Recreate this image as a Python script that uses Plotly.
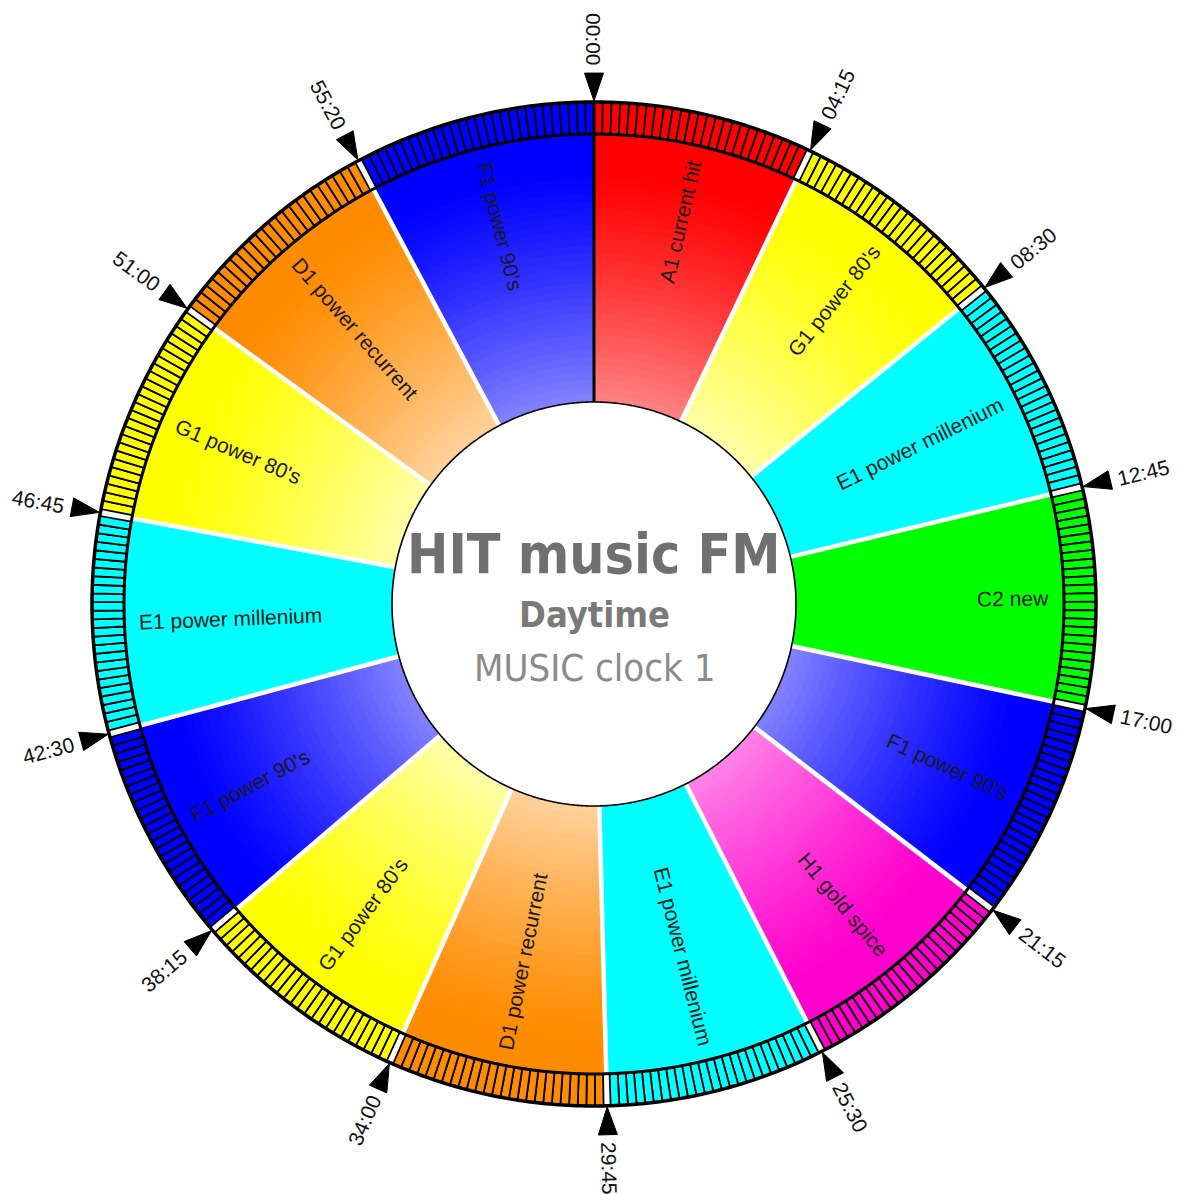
import numpy as np
import plotly.graph_objects as go

# ---------------- data ----------------
boundary_times = ["00:00", "04:15", "08:30", "12:45", "17:00", "21:15", "25:30",
                  "29:45", "34:00", "38:15", "42:30", "46:45", "51:00", "55:20"]
clock_end = "60:00"
segment_codes = ["A1", "G1", "E1", "C2", "F1", "H1", "E1",
                 "D1", "G1", "F1", "E1", "G1", "D1", "F1"]
segment_names = ["current hit", "power 80's", "power millenium", "new", "power 90's",
                 "gold spice", "power millenium", "power recurrent", "power 80's",
                 "power 90's", "power millenium", "power 80's", "power recurrent",
                 "power 90's"]
title_main = "HIT music FM"
title_sub = "Daytime"
title_clock = "MUSIC clock 1"

# ---------------- styles ----------------
code_colors = {"A1": (255, 0, 0), "C2": (0, 255, 0), "D1": (255, 140, 0),
               "E1": (0, 255, 255), "F1": (0, 0, 255), "G1": (255, 255, 0),
               "H1": (255, 0, 204)}
code_tint = {"A1": 0.5, "C2": 0.0, "D1": 0.6, "E1": 0.0, "F1": 0.5,
             "G1": 0.65, "H1": 0.5}

W, H = 1177, 1194
CX, CY = 594, 604          # centre in page px (from top-left)
R_HOLE, R_IN, R_OUT = 202, 470, 502
R_MAX = 545
RING_GAP_S = 8             # white gap in seconds around boundaries
CELL_S = 10


def to_sec(t):
    m, s = t.split(":")
    return int(m) * 60 + int(s)


def deg(sec):
    return sec / 10.0


starts = [to_sec(t) for t in boundary_times]
ends = starts[1:] + [to_sec(clock_end)]
labels = [f"{c} {n}" for c, n in zip(segment_codes, segment_names)]
total = to_sec(clock_end)

fig = go.Figure()

# ---- wedges with radial gradient (stacked bands, outer drawn last) ----
NB = 36
theta_c = [deg((a + b) / 2) for a, b in zip(starts, ends)]
widths = [deg(b - a) for a, b in zip(starts, ends)]
for k in range(NB):
    f = k / NB
    rb = R_HOLE + (R_IN - R_HOLE) * f
    cols = []
    for c in segment_codes:
        base = code_colors[c]
        t = code_tint[c] * max(0.0, 1 - f / 0.85) ** 1.2
        rgb = [round(v + (255 - v) * t) for v in base]
        cols.append(f"rgb({rgb[0]},{rgb[1]},{rgb[2]})")
    fig.add_trace(go.Barpolar(theta=theta_c, width=widths, base=[rb] * len(theta_c),
                              r=[R_IN - rb] * len(theta_c),
                              marker=dict(color=cols, line=dict(width=0)),
                              hoverinfo="skip", showlegend=False))

# ---- outer ring cells ----
cell_t, cell_w, cell_c = [], [], []
for a, b, c in zip(starts, ends, segment_codes):
    s0 = a + (RING_GAP_S / 2 if a % total != 0 else 0)
    s1 = b - (RING_GAP_S / 2 if b % total != 0 else 0)
    n = max(1, round((s1 - s0) / CELL_S))
    step = (s1 - s0) / n
    rgb = code_colors[c]
    for i in range(n):
        cell_t.append(deg(s0 + step * (i + 0.5)))
        cell_w.append(deg(step))
        cell_c.append(f"rgb({rgb[0]},{rgb[1]},{rgb[2]})")
fig.add_trace(go.Barpolar(theta=cell_t, width=cell_w, base=[R_IN] * len(cell_t),
                          r=[R_OUT - R_IN] * len(cell_t),
                          marker=dict(color=cell_c, line=dict(color="black", width=1.8)),
                          hoverinfo="skip", showlegend=False))

# ---- separators ----
sep_r, sep_t = [], []
for a in starts:
    if a % total == 0:
        continue
    sep_r += [R_HOLE, R_IN, None]
    sep_t += [deg(a), deg(a), None]
fig.add_trace(go.Scatterpolar(r=sep_r, theta=sep_t, mode="lines",
                              line=dict(color="white", width=4.5),
                              hoverinfo="skip", showlegend=False))
fig.add_trace(go.Scatterpolar(r=[R_HOLE, R_OUT], theta=[0, 0], mode="lines",
                              line=dict(color="black", width=3),
                              hoverinfo="skip", showlegend=False))

# ---- circles ----
circ = np.linspace(0, 360, 721)
for rr, w in [(R_OUT, 3.5), (R_IN, 3), (R_HOLE, 1.6)]:
    fig.add_trace(go.Scatterpolar(r=[rr] * len(circ), theta=circ, mode="lines",
                                  line=dict(color="black", width=w),
                                  hoverinfo="skip", showlegend=False))

# ---- boundary triangles ----
TRI_LEN, TRI_HALF = 29, 9.5
tr_r, tr_t = [], []
for a in starts:
    d = deg(a)
    dt = np.degrees(TRI_HALF / (R_OUT + TRI_LEN))
    tr_r += [R_OUT + 1, R_OUT + TRI_LEN, R_OUT + TRI_LEN, R_OUT + 1, None]
    tr_t += [d, d - dt, d + dt, d, None]
fig.add_trace(go.Scatterpolar(r=tr_r, theta=tr_t, mode="lines", fill="toself",
                              fillcolor="black", line=dict(color="black", width=1),
                              hoverinfo="skip", showlegend=False))

# invisible cartesian trace so annotation axes exist
fig.add_trace(go.Scatter(x=[None], y=[None], xaxis="x", yaxis="y",
                         hoverinfo="skip", showlegend=False))

# ---------------- annotations ----------------
annotations = []


def text_angle(theta):
    theta = theta % 360
    if 0 < theta <= 180:
        return theta - 90
    a = theta - 270
    return a if a >= -90 else a + 360


def polar_xy(r, theta):
    t = np.radians(theta)
    return r * np.sin(t), r * np.cos(t)


for a, lab in zip(starts, boundary_times):
    d = deg(a)
    x, y = polar_xy(565, d)
    annotations.append(dict(x=x, y=y, xref="x", yref="y", text=lab,
                            showarrow=False, textangle=text_angle(d if d else 360),
                            font=dict(family="Liberation Sans, Arial", size=21, color="#111")))

char_w = {"i": .222, "l": .222, "t": .278, "f": .278, "'": .191, " ": .278, "r": .333,
          "m": .833, "w": .722, "A": .667, "C": .722, "D": .722, "E": .667, "F": .611,
          "G": .778, "H": .722}
LBL_SIZE = 21
for lab, th in zip(labels, theta_c):
    L = sum(char_w.get(ch, .556) for ch in lab) * LBL_SIZE
    r = 455 - L / 2
    x, y = polar_xy(r, th)
    annotations.append(dict(x=x, y=y, xref="x", yref="y", text=lab, showarrow=False,
                            textangle=text_angle(th),
                            font=dict(family="Liberation Sans, Arial", size=LBL_SIZE,
                                      color="#1a1a1a")))

CENTER_FONT = "DejaVu Sans Condensed, DejaVu Sans, sans-serif"
annotations.append(dict(x=0, y=50, xref="x", yref="y", text=f"<b>{title_main}</b>",
                        showarrow=False, font=dict(family=CENTER_FONT, size=55, color="#707070")))
annotations.append(dict(x=0, y=-10, xref="x", yref="y", text=f"<b>{title_sub}</b>",
                        showarrow=False, font=dict(family=CENTER_FONT, size=36, color="#7a7a7a")))
annotations.append(dict(x=0, y=-64, xref="x", yref="y", text=title_clock,
                        showarrow=False, font=dict(family=CENTER_FONT, size=38, color="#8a8a8a")))

pxd = [(CX - R_MAX) / W, (CX + R_MAX) / W]
pyd = [(H - CY - R_MAX) / H, (H - CY + R_MAX) / H]

fig.update_layout(
    width=W, height=H, margin=dict(l=0, r=0, t=0, b=0),
    paper_bgcolor="white", plot_bgcolor="rgba(0,0,0,0)",
    showlegend=False, hovermode=False,
    polar=dict(domain=dict(x=pxd, y=pyd), bgcolor="rgba(0,0,0,0)", bargap=0,
               angularaxis=dict(rotation=90, direction="clockwise", visible=False,
                                showgrid=False, showline=False),
               radialaxis=dict(range=[0, R_MAX], visible=False, showgrid=False)),
    xaxis=dict(domain=[0, 1], range=[-CX, W - CX], visible=False, fixedrange=True),
    yaxis=dict(domain=[0, 1], range=[-(H - CY), CY], visible=False, fixedrange=True),
    annotations=annotations,
)

fig.write_html("out.html", config={"displayModeBar": False},
               post_script="document.body.style.margin='0';document.body.style.overflow='hidden';")
